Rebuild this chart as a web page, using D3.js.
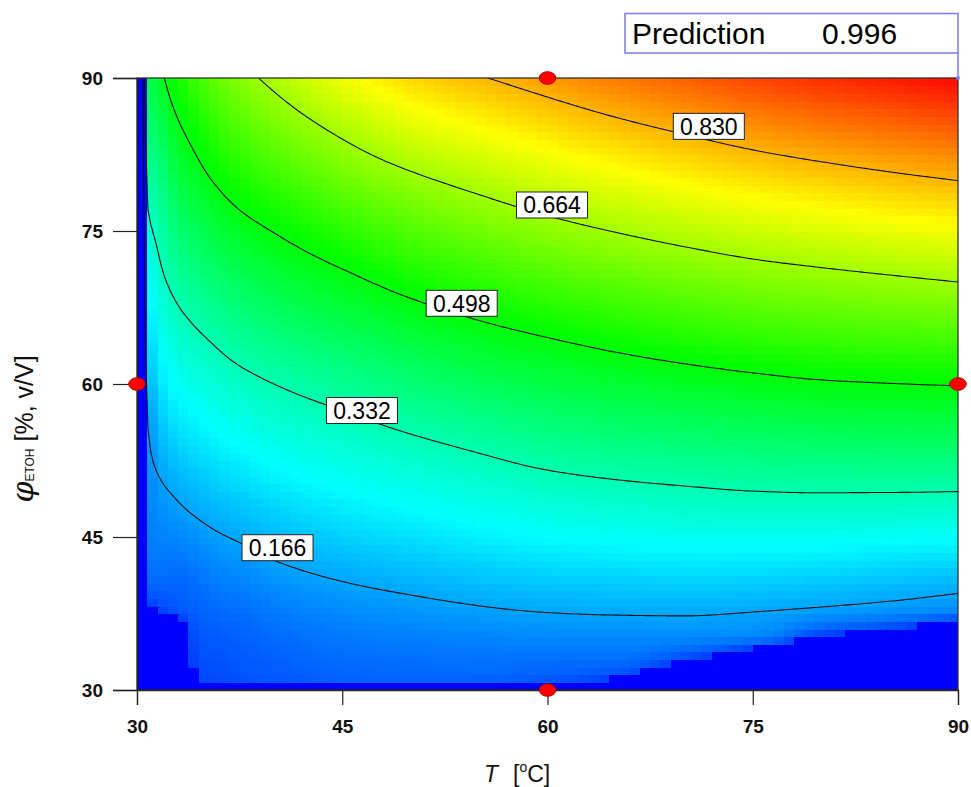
<!DOCTYPE html>
<html><head><meta charset="utf-8">
<script src="https://cdn.jsdelivr.net/npm/d3@7"></script>
<style>
body{margin:0;background:#fff;}
svg{display:block;font-family:"Liberation Sans",Arial,sans-serif;}
</style></head><body>
<svg id="chart" width="971" height="787"></svg>
<script>
// ---------------- data ----------------
const tempValues = [30, 30.75, 31.5, 32.5, 34, 35.5, 37.5, 40, 45, 50, 55, 60, 65, 70, 75, 80, 85, 90];
const ethanolValues = [30, 30.75, 32.5, 35, 37.5, 40, 45, 50, 55, 60, 65, 70, 75, 80, 85, 90];
// predicted response; one row per ethanolValues entry (bottom to top), one column per tempValues entry
const response = [
  [-0.5, -0.5, -0.5, -0.5, -0.5, -0.5, -0.5, -0.5, -0.5, -0.5, -0.5, -0.5, -0.5, -0.5, -0.5, -0.5, -0.5, -0.5],
  [-0.5, -0.3, -0.25, -0.2, 0.07, 0.072, 0.08, 0.085, 0.095, 0.097, 0.095, 0.085, 0.049, -0.2, -0.3, -0.3, -0.35, -0.4],
  [-0.5, -0.2, -0.15, -0.1, 0.075, 0.08, 0.087, 0.094, 0.105, 0.108, 0.11, 0.107, 0.105, 0.055, -0.063, -0.2, -0.25, -0.3],
  [-0.5, -0.1, -0.05, -0.05, 0.085, 0.09, 0.097, 0.106, 0.12, 0.126, 0.132, 0.136, 0.136, 0.136, 0.129, 0.056, 0.013, -0.093],
  [-0.5, 0.045, 0.065, 0.08, 0.095, 0.103, 0.11, 0.122, 0.138, 0.148, 0.158, 0.165, 0.168, 0.169, 0.164, 0.154, 0.144, 0.132],
  [-0.5, 0.10, 0.10, 0.097, 0.108, 0.12, 0.128, 0.142, 0.160, 0.173, 0.185, 0.195, 0.199, 0.202, 0.199, 0.192, 0.184, 0.174],
  [-0.5, 0.125, 0.13, 0.135, 0.147, 0.159, 0.171, 0.187, 0.209, 0.225, 0.241, 0.254, 0.262, 0.267, 0.269, 0.267, 0.263, 0.258],
  [-0.5, 0.14, 0.158, 0.172, 0.190, 0.204, 0.218, 0.235, 0.258, 0.277, 0.296, 0.313, 0.324, 0.332, 0.339, 0.342, 0.342, 0.341],
  [-0.5, 0.158, 0.193, 0.215, 0.234, 0.250, 0.266, 0.284, 0.307, 0.331, 0.353, 0.375, 0.390, 0.401, 0.410, 0.417, 0.420, 0.421],
  [-0.5, 0.195, 0.233, 0.257, 0.279, 0.296, 0.314, 0.332, 0.361, 0.391, 0.418, 0.439, 0.456, 0.470, 0.482, 0.492, 0.497, 0.501],
  [-0.5, 0.232, 0.272, 0.299, 0.323, 0.342, 0.366, 0.388, 0.422, 0.454, 0.482, 0.504, 0.524, 0.541, 0.556, 0.567, 0.575, 0.582],
  [-0.5, 0.27, 0.31, 0.341, 0.371, 0.394, 0.420, 0.444, 0.482, 0.519, 0.548, 0.574, 0.595, 0.613, 0.630, 0.642, 0.653, 0.664],
  [-0.5, 0.31, 0.345, 0.386, 0.419, 0.447, 0.475, 0.500, 0.546, 0.585, 0.615, 0.643, 0.666, 0.687, 0.706, 0.721, 0.735, 0.747],
  [-0.5, 0.355, 0.385, 0.430, 0.467, 0.499, 0.531, 0.560, 0.612, 0.652, 0.684, 0.714, 0.740, 0.763, 0.784, 0.801, 0.817, 0.831],
  [-0.5, 0.40, 0.43, 0.474, 0.515, 0.551, 0.586, 0.620, 0.677, 0.724, 0.755, 0.785, 0.813, 0.838, 0.862, 0.882, 0.899, 0.915],
  [-0.5, 0.44, 0.475, 0.519, 0.564, 0.604, 0.642, 0.680, 0.745, 0.796, 0.826, 0.857, 0.888, 0.915, 0.941, 0.962, 0.981, 0.999]
];
const contourLevels = [0.166, 0.332, 0.498, 0.664, 0.830];
const contourLabelT = [40.27, 46.44, 53.73, 60.33, 71.79];
const contourLabelPhi = [43.95, 57.40, 67.91, 77.55, 85.26];
const designT = [60, 30, 90, 60];
const designPhi = [90, 60, 60, 30];
const xTicks = [30, 45, 60, 75, 90];
const yTicks = [30, 45, 60, 75, 90];
const predictionLabel = "Prediction";
const predictionValue = 0.996;
const predictionT = 90;
const predictionPhi = 90;

// ---------------- helpers: smooth (monotone cubic) resampling of the grid ----------------
function locate(arr, v) {
  let i = d3.bisectRight(arr, v) - 1;
  if (i < 0) i = 0;
  if (i > arr.length - 2) i = arr.length - 2;
  return [i, (v - arr[i]) / (arr[i + 1] - arr[i])];
}
function monoSlopes(xs, ys) {
  const n = xs.length, d = [], m = new Array(n);
  for (let k = 0; k < n - 1; k++) d.push((ys[k + 1] - ys[k]) / (xs[k + 1] - xs[k]));
  m[0] = d[0]; m[n - 1] = d[n - 2];
  for (let k = 1; k < n - 1; k++) {
    if (d[k - 1] * d[k] <= 0) m[k] = 0;
    else {
      const h0 = xs[k] - xs[k - 1], h1 = xs[k + 1] - xs[k];
      const w1 = 2 * h1 + h0, w2 = h1 + 2 * h0;
      m[k] = (w1 + w2) / (w1 / d[k - 1] + w2 / d[k]);
    }
  }
  return m;
}
function hermite(xs, ys, ms, v) {
  const vc = Math.max(xs[0], Math.min(xs[xs.length - 1], v));
  const [k, t] = locate(xs, vc);
  const h = xs[k + 1] - xs[k], t2 = t * t, t3 = t2 * t;
  return (2 * t3 - 3 * t2 + 1) * ys[k] + (t3 - 2 * t2 + t) * h * ms[k]
       + (-2 * t3 + 3 * t2) * ys[k + 1] + (t3 - t2) * h * ms[k + 1];
}
const rowSlopes = response.map(row => monoSlopes(tempValues, row));
function columnAt(T) {
  const col = response.map((row, j) => hermite(tempValues, row, rowSlopes[j], T));
  return {col, slopes: monoSlopes(ethanolValues, col)};
}
function valueFromColumn(c, P) { return hermite(ethanolValues, c.col, c.slopes, P); }

// ---------------- drawing ----------------
const svg = d3.select("#chart");
const x = d3.scaleLinear().domain([30, 90]).range([137, 958]);
const y = d3.scaleLinear().domain([30, 90]).range([690, 78]);
const color = d3.scaleLinear().domain([0, 0.25, 0.5, 0.75, 1])
  .range(["#0000ff", "#00ffff", "#00ff00", "#ffff00", "#ff0000"]).clamp(true);
const belowColor = "#0000ff";
const belowCut = 0.06;

const defs = svg.append("defs");
defs.append("clipPath").attr("id", "plotClip").append("rect")
  .attr("x", x(30)).attr("y", y(90)).attr("width", x(90) - x(30)).attr("height", y(30) - y(90));

// colour cells
const nCells = 80, cellStep = 60 / nCells;
const cells = [];
for (let i = 0; i < nCells; i++) {
  const t0 = 30 + i * cellStep;
  const c = columnAt(t0);
  for (let j = 0; j < nCells; j++) {
    const p0 = 30 + j * cellStep;
    cells.push({t0, p0, v: valueFromColumn(c, p0)});
  }
}
svg.append("g").attr("clip-path", "url(#plotClip)")
  .selectAll("rect").data(cells).join("rect")
  .attr("x", d => x(d.t0))
  .attr("y", d => y(d.p0 + cellStep))
  .attr("width", d => x(d.t0 + cellStep) - x(d.t0) + 0.7)
  .attr("height", d => y(d.p0) - y(d.p0 + cellStep) + 0.7)
  .attr("shape-rendering", "crispEdges")
  .attr("fill", d => d.v < belowCut ? belowColor : color(d.v));

// contour lines
const step = 0.2, T0 = 29.6, P0 = 29.6;
const n = Math.round((90.4 - 29.6) / step) + 1;
const vals = new Float64Array(n * n);
for (let c = 0; c < n; c++) {
  const colData = columnAt(T0 + c * step);
  for (let r = 0; r < n; r++) vals[r * n + c] = valueFromColumn(colData, P0 + r * step);
}
const contours = d3.contours().size([n, n]).thresholds(contourLevels)(vals);
const proj = d3.geoTransform({point(px, py) { this.stream.point(x(T0 + (px - 0.5) * step), y(P0 + (py - 0.5) * step)); }});
const cpath = d3.geoPath(proj);
svg.append("g").attr("clip-path", "url(#plotClip)")
  .selectAll("path").data(contours).join("path")
  .attr("d", cpath).attr("fill", "none").attr("stroke", "#111").attr("stroke-width", 1.1);

// contour labels
const labG = svg.append("g");
contourLevels.forEach((lv, k) => {
  const cx = x(contourLabelT[k]), cy = y(contourLabelPhi[k]);
  labG.append("rect").attr("x", cx - 35.5).attr("y", cy - 13).attr("width", 71).attr("height", 26)
    .attr("fill", "#fff").attr("stroke", "#222").attr("stroke-width", 1);
  labG.append("text").attr("x", cx).attr("y", cy + 8.3).attr("text-anchor", "middle")
    .attr("font-size", 23).attr("fill", "#000").text(d3.format(".3f")(lv));
});

// frame
svg.append("rect").attr("x", x(30)).attr("y", y(90)).attr("width", x(90) - x(30)).attr("height", y(30) - y(90))
  .attr("fill", "none").attr("stroke", "#333").attr("stroke-width", 1.3);

// axes
const xAxis = svg.append("g").attr("transform", `translate(0,${y(30)})`)
  .call(d3.axisBottom(x).tickValues(xTicks).tickSize(15).tickPadding(15).tickFormat(d3.format("d")));
const yAxis = svg.append("g").attr("transform", `translate(${x(30)},0)`)
  .call(d3.axisLeft(y).tickValues(yTicks).tickSize(24).tickPadding(10).tickFormat(d3.format("d")));
[xAxis, yAxis].forEach(a => {
  a.select(".domain").attr("stroke", "#222").attr("stroke-width", 1.3);
  a.selectAll(".tick line").attr("stroke", "#222").attr("stroke-width", 1.2);
  a.selectAll(".tick text").attr("font-size", 19).attr("font-weight", "bold").attr("fill", "#111")
    .attr("font-family", "'Liberation Sans', Arial, sans-serif");
});

// design points
svg.append("g").selectAll("ellipse").data(designT.map((t, k) => [t, designPhi[k]])).join("ellipse")
  .attr("cx", d => x(d[0])).attr("cy", d => y(d[1])).attr("rx", 8.3).attr("ry", 6.3)
  .attr("fill", "#ff0000").attr("stroke", "#b00000").attr("stroke-width", 1);

// axis titles
const xt = svg.append("text").attr("y", 782).attr("font-size", 23).attr("fill", "#111");
xt.append("tspan").attr("x", 484).attr("font-style", "italic").text("T");
xt.append("tspan").attr("x", 513).text("[");
xt.append("tspan").attr("font-size", 14).attr("dy", -10).text("o");
xt.append("tspan").attr("dy", 10).text("C]");

const yt = svg.append("text").attr("transform", "translate(33,429) rotate(-90)").attr("text-anchor", "middle")
  .attr("font-size", 25).attr("fill", "#111");
yt.append("tspan").attr("font-style", "italic").attr("font-family", "'DejaVu Serif', serif").attr("font-size", 30).text("φ");
yt.append("tspan").attr("font-size", 12).attr("dy", 1).text("ETOH");
yt.append("tspan").attr("dy", -1).text(" [%, v/V]");

// prediction flag
const pg = svg.append("g");
pg.append("line").attr("x1", x(predictionT)).attr("x2", x(predictionT)).attr("y1", 53).attr("y2", y(predictionPhi))
  .attr("stroke", "#7b7bf2").attr("stroke-width", 1.5);
pg.append("circle").attr("cx", x(predictionT)).attr("cy", y(predictionPhi)).attr("r", 2).attr("fill", "#7b7bf2");
pg.append("rect").attr("x", 625).attr("y", 13.5).attr("width", x(predictionT) - 625).attr("height", 39.5)
  .attr("fill", "#fff").attr("stroke", "#7b7bf2").attr("stroke-width", 1.5);
pg.append("text").attr("x", 632).attr("y", 44).attr("font-size", 30).attr("fill", "#000").text(predictionLabel);
pg.append("text").attr("x", 822).attr("y", 44).attr("font-size", 30).attr("fill", "#000").text(d3.format(".3f")(predictionValue));
</script>
</body></html>
